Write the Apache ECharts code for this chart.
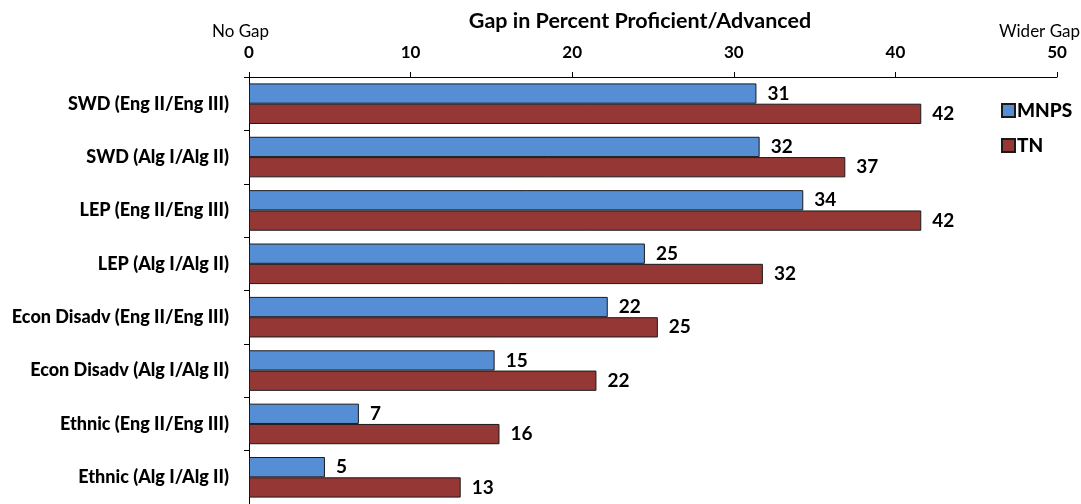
<!DOCTYPE html>
<html>
<head>
<meta charset="utf-8">
<script src="https://cdn.jsdelivr.net/npm/echarts@6/dist/echarts.min.js"></script>
<style>html,body{margin:0;padding:0;background:#fff}#c{width:1081px;height:504px}</style>
</head>
<body>
<div id="c"></div>
<script>
const categories = [
  'SWD (Eng II/Eng III)',
  'SWD (Alg I/Alg II)',
  'LEP (Eng II/Eng III)',
  'LEP (Alg I/Alg II)',
  'Econ Disadv (Eng II/Eng III)',
  'Econ Disadv (Alg I/Alg II)',
  'Ethnic (Eng II/Eng III)',
  'Ethnic (Alg I/Alg II)'
];
const mnps = [31.4, 31.6, 34.3, 24.5, 22.2, 15.2, 6.8, 4.7];
const tn = [41.6, 36.9, 41.6, 31.8, 25.3, 21.5, 15.5, 13.1];
const seriesNames = ['MNPS', 'TN'];
const axisTitle = 'Gap in Percent Proficient/Advanced';
const leftNote = 'No Gap';
const rightNote = 'Wider Gap';

const FONT = 'Lato';
const chart = echarts.init(document.getElementById('c'), null, {renderer: 'canvas'});
const labelCfg = {
  show: true, position: 'right', distance: 11,
  fontFamily: FONT, fontWeight: 'bold', fontSize: 19, color: '#000',
  formatter: p => String(Math.round(p.value))
};
chart.setOption({
  animation: false,
  backgroundColor: '#fff',
  textStyle: {fontFamily: FONT, fontWeight: 'bold'},
  grid: {left: 249, top: 77, width: 808, height: 430, containLabel: false},
  legend: {
    orient: 'vertical', left: 996, top: 96, itemWidth: 13, itemHeight: 13, itemGap: 16,
    icon: 'rect',
    textStyle: {fontFamily: FONT, fontWeight: 900, fontSize: 19, color: '#000', padding: [0,0,0,-3]},
    data: seriesNames
  },
  graphic: [
    {type: 'text', left: 212, top: 23, style: {text: leftNote, fontFamily: FONT, fontWeight: 'normal', fontSize: 17, fill: '#000'}},
    {type: 'text', right: 1, top: 23, style: {text: rightNote, fontFamily: FONT, fontWeight: 'normal', fontSize: 17, fill: '#000'}}
  ],
  xAxis: {
    type: 'value', position: 'top', min: 0, max: 50, interval: 10,
    name: axisTitle, nameLocation: 'middle', nameGap: 45,
    nameTextStyle: {fontFamily: FONT, fontWeight: 'bold', fontSize: 21.5, color: '#000', padding: [0, 26, 0, 0]},
    axisLine: {show: true, lineStyle: {color: '#000', width: 1}},
    axisTick: {show: true, length: 5, lineStyle: {color: '#000'}},
    axisLabel: {fontFamily: FONT, fontWeight: 'bold', fontSize: 17, color: '#000', margin: 16},
    splitLine: {show: false}
  },
  yAxis: {
    type: 'category', inverse: true, data: categories,
    axisLine: {show: true, lineStyle: {color: '#000', width: 1}},
    axisTick: {show: true, length: 5, lineStyle: {color: '#000'}},
    axisLabel: {fontFamily: FONT, fontWeight: 900, fontSize: 18, color: '#000', margin: 20}
  },
  series: [
    {name: seriesNames[0], type: 'bar', data: mnps, barGap: '0%', barCategoryGap: '24%',
     itemStyle: {color: '#558ED5', borderColor: '#1a1a1a', borderWidth: 1}, label: labelCfg},
    {name: seriesNames[1], type: 'bar', data: tn, barGap: '0%', barCategoryGap: '24%',
     itemStyle: {color: '#953735', borderColor: '#1a1a1a', borderWidth: 1}, label: labelCfg}
  ]
});
</script>
</body>
</html>
